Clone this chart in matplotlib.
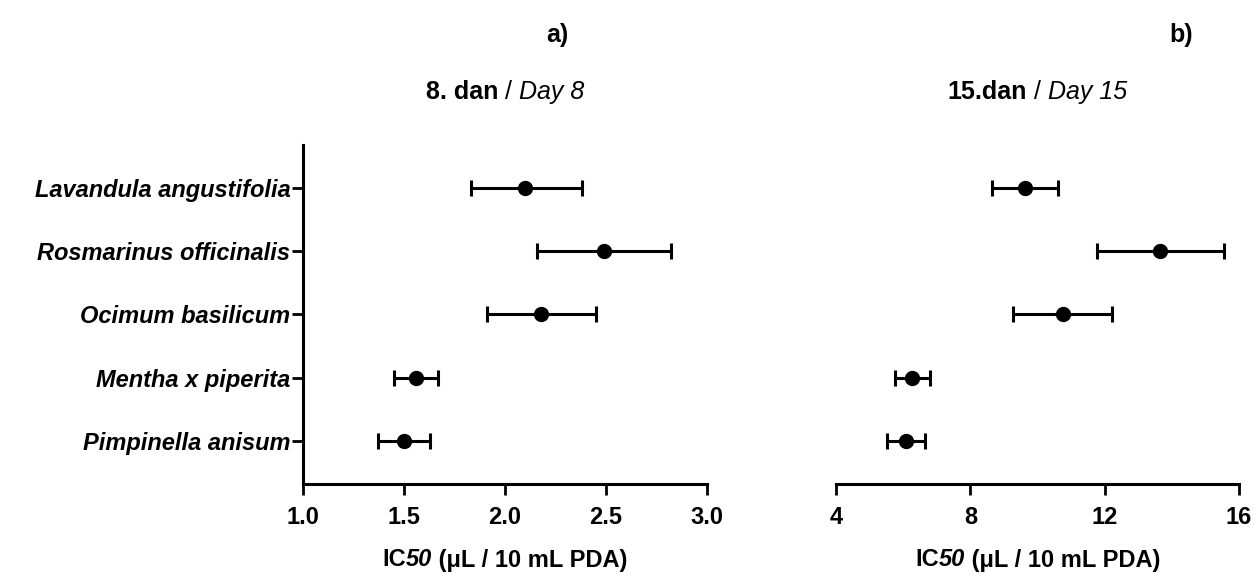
import numpy as np
import matplotlib
matplotlib.use("Agg")
import matplotlib.pyplot as plt
from matplotlib.transforms import offset_copy

plt.rcParams['font.family'] = ['Liberation Sans', 'DejaVu Sans']

# species, listed top to bottom
species = ["Lavandula angustifolia", "Rosmarinus officinalis", "Ocimum basilicum",
           "Mentha x piperita", "Pimpinella anisum"]

# day 8: IC50 with lower / upper interval
day8_ic50 = [2.10, 2.49, 2.18, 1.56, 1.50]
day8_low = [1.83, 2.16, 1.91, 1.45, 1.37]
day8_high = [2.38, 2.82, 2.45, 1.67, 1.63]

# day 15
day15_ic50 = [9.63, 13.66, 10.75, 6.27, 6.08]
day15_low = [8.65, 11.78, 9.28, 5.75, 5.51]
day15_high = [10.61, 15.56, 12.23, 6.79, 6.65]

day8_ticks = [1.0, 1.5, 2.0, 2.5, 3.0]
day15_ticks = [4, 8, 12, 16]

fs = 17
fs_title = 18
ypos = np.arange(len(species))[::-1]

fig = plt.figure(figsize=(12.56, 5.77), dpi=100)
ax1 = fig.add_axes([0.2412, 0.1612, 0.3217, 0.5875])
ax2 = fig.add_axes([0.6656, 0.1612, 0.3209, 0.5875])


def rich_text(x, y, parts, size):
    """Place text pieces with mixed weight/style centred at figure coords (x, y)."""
    renderer = fig.canvas.get_renderer()
    texts = []
    widths = []
    for s, weight, style in parts:
        t = fig.text(x, y, s, fontsize=size, fontweight=weight, fontstyle=style,
                     ha='left', va='center')
        w = t.get_window_extent(renderer).width
        texts.append(t)
        widths.append(w)
    total = sum(widths)
    dx = -total / 2
    for t, w in zip(texts, widths):
        t.set_transform(offset_copy(fig.transFigure, fig=fig, x=dx, y=0, units='dots'))
        dx += w


def draw_panel(ax, vals, low, high, ticks, show_y):
    vals = np.array(vals)
    err = [vals - np.array(low), np.array(high) - vals]
    ax.errorbar(vals, ypos, xerr=err, fmt='o', color='black', ms=10,
                elinewidth=2.2, capsize=6, capthick=2.2)
    ax.set_xlim(ticks[0], ticks[-1])
    ax.set_ylim(-0.68, len(species) - 1 + 0.68)
    ax.set_xticks(ticks)
    if ticks[0] == 1.0:
        ax.set_xticklabels([f"{t:.1f}" for t in ticks])
    ax.tick_params(axis='x', width=2, length=8, labelsize=fs, pad=8)
    for lab in ax.get_xticklabels():
        lab.set_fontweight('bold')
    for s in ['top', 'right']:
        ax.spines[s].set_visible(False)
    ax.spines['bottom'].set_linewidth(2.2)
    if show_y:
        ax.spines['left'].set_linewidth(2.2)
        ax.set_yticks(ypos)
        ax.set_yticklabels(species, fontsize=fs, fontweight='bold', fontstyle='italic')
        ax.tick_params(axis='y', width=2, length=8, pad=1)
    else:
        ax.spines['left'].set_visible(False)
        ax.set_yticks([])


draw_panel(ax1, day8_ic50, day8_low, day8_high, day8_ticks, True)
draw_panel(ax2, day15_ic50, day15_low, day15_high, day15_ticks, False)

xlabel_parts = [("IC", 'bold', 'normal'), ("50", 'bold', 'italic'),
                (" (μL / 10 mL PDA)", 'bold', 'normal')]
for ax in (ax1, ax2):
    pos = ax.get_position()
    cx = (pos.x0 + pos.x1) / 2
    rich_text(cx, 1 - 560 / 577, xlabel_parts, fs)

pos1 = ax1.get_position()
pos2 = ax2.get_position()
rich_text((pos1.x0 + pos1.x1) / 2, 1 - 92 / 577,
          [("8. dan", 'bold', 'normal'), (" / ", 'normal', 'normal'),
           ("Day 8", 'normal', 'italic')], fs_title)
rich_text((pos2.x0 + pos2.x1) / 2, 1 - 92 / 577,
          [("15.dan", 'bold', 'normal'), (" / ", 'normal', 'normal'),
           ("Day 15", 'normal', 'italic')], fs_title)

fig.text(557 / 1256, 1 - 35 / 577, "a)", fontsize=fs_title, fontweight='bold', ha='center', va='center')
fig.text(1181 / 1256, 1 - 35 / 577, "b)", fontsize=fs_title, fontweight='bold', ha='center', va='center')

fig.savefig("out.png", dpi=100)
